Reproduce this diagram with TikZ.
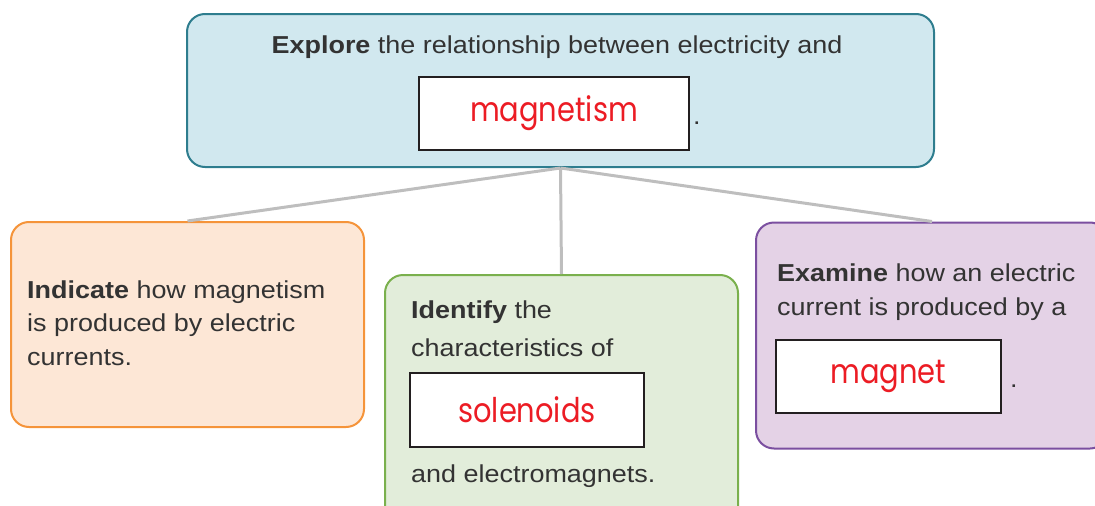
\documentclass[tikz,border=0pt]{standalone}
\usepackage{fontspec}
\setmainfont{Liberation Sans}[FakeStretch=1.1]
\newfontfamily\handfont{Poppins}[FakeStretch=0.85]
\usetikzlibrary{positioning}
\definecolor{TextGray}{HTML}{333333}
\definecolor{AnswerRed}{HTML}{EC1C24}
\definecolor{AnswerEdge}{HTML}{231F20}
\definecolor{LinkGray}{HTML}{BEBEBE}
\definecolor{ExploreFill}{HTML}{D1E8EF}
\definecolor{ExploreEdge}{HTML}{2E7D8E}
\definecolor{IndicateFill}{HTML}{FDE7D6}
\definecolor{IndicateEdge}{HTML}{F5943A}
\definecolor{IdentifyFill}{HTML}{E2EDDA}
\definecolor{IdentifyEdge}{HTML}{7AB04D}
\definecolor{ExamineFill}{HTML}{E4D2E6}
\definecolor{ExamineEdge}{HTML}{7B4FA0}

\begin{document}
\begin{tikzpicture}[x=1pt, y=-1pt,
    topic/.style={draw, line width=2pt, rounded corners=18pt},
    answer/.style={draw=AnswerEdge, fill=white, line width=2.5pt, text=AnswerRed,
        font=\handfont\fontsize{34}{34}\selectfont},
    txt/.style={font=\fontsize{24.5}{33.5}\selectfont, text=TextGray, align=left, inner sep=0pt},
    link/.style={draw=LinkGray, line width=3pt}]
                \useasboundingbox (0,0) rectangle (1095,506);
                \node[topic, draw=ExploreEdge, fill=ExploreFill, minimum width=747pt, minimum height=153pt] (explore) at (560.5,90.5) {};
                \node[topic, draw=IndicateEdge, fill=IndicateFill, minimum width=353pt, minimum height=205pt] (indicate) at (187.5,324.5) {};
                \node[topic, draw=IdentifyEdge, fill=IdentifyFill, minimum width=353pt, minimum height=270pt] (identify) at (561.5,410) {};
                \node[topic, draw=ExamineEdge, fill=ExamineFill, minimum width=352pt, minimum height=226pt] (examine) at (932,335.5) {};
                \foreach \b in {indicate, identify, examine} {
                    \draw[link] (explore.south) -- (\b.north);
                }
                \node[txt, anchor=base] (exploretxt) at (557,53) {\textbf{Explore} the relationship between electricity and};
                \node[answer, minimum width=270pt, minimum height=73pt] (magnetism) at (554,113.5) {magnetism};
                \node[txt, anchor=base west] (exploredot) at (693,124) {.};
                \node[txt, anchor=base west] (indicatetxt) at (27,365) {\textbf{Indicate} how magnetism\\is produced by electric\\currents.};
                \node[txt, anchor=base west] (identifytxt) at (411,318) {\textbf{Identify} the};
                \node[txt, anchor=base west] (identifytxt2) at (411,356) {characteristics of};
                \node[answer, minimum width=234pt, minimum height=74pt] (solenoids) at (527,410) {solenoids};
                \node[txt, anchor=base west] (identifytxt3) at (411,482) {and electromagnets.};
                \node[txt, anchor=base west] (examinetxt) at (777,315) {\textbf{Examine} how an electric\\current is produced by a};
                \node[answer, minimum width=225pt, minimum height=73pt] (magnet) at (888.5,376.5) {magnet};
                \node[txt, anchor=base west] (examinedot) at (1010,387) {.};
            \end{tikzpicture}
\end{document}
